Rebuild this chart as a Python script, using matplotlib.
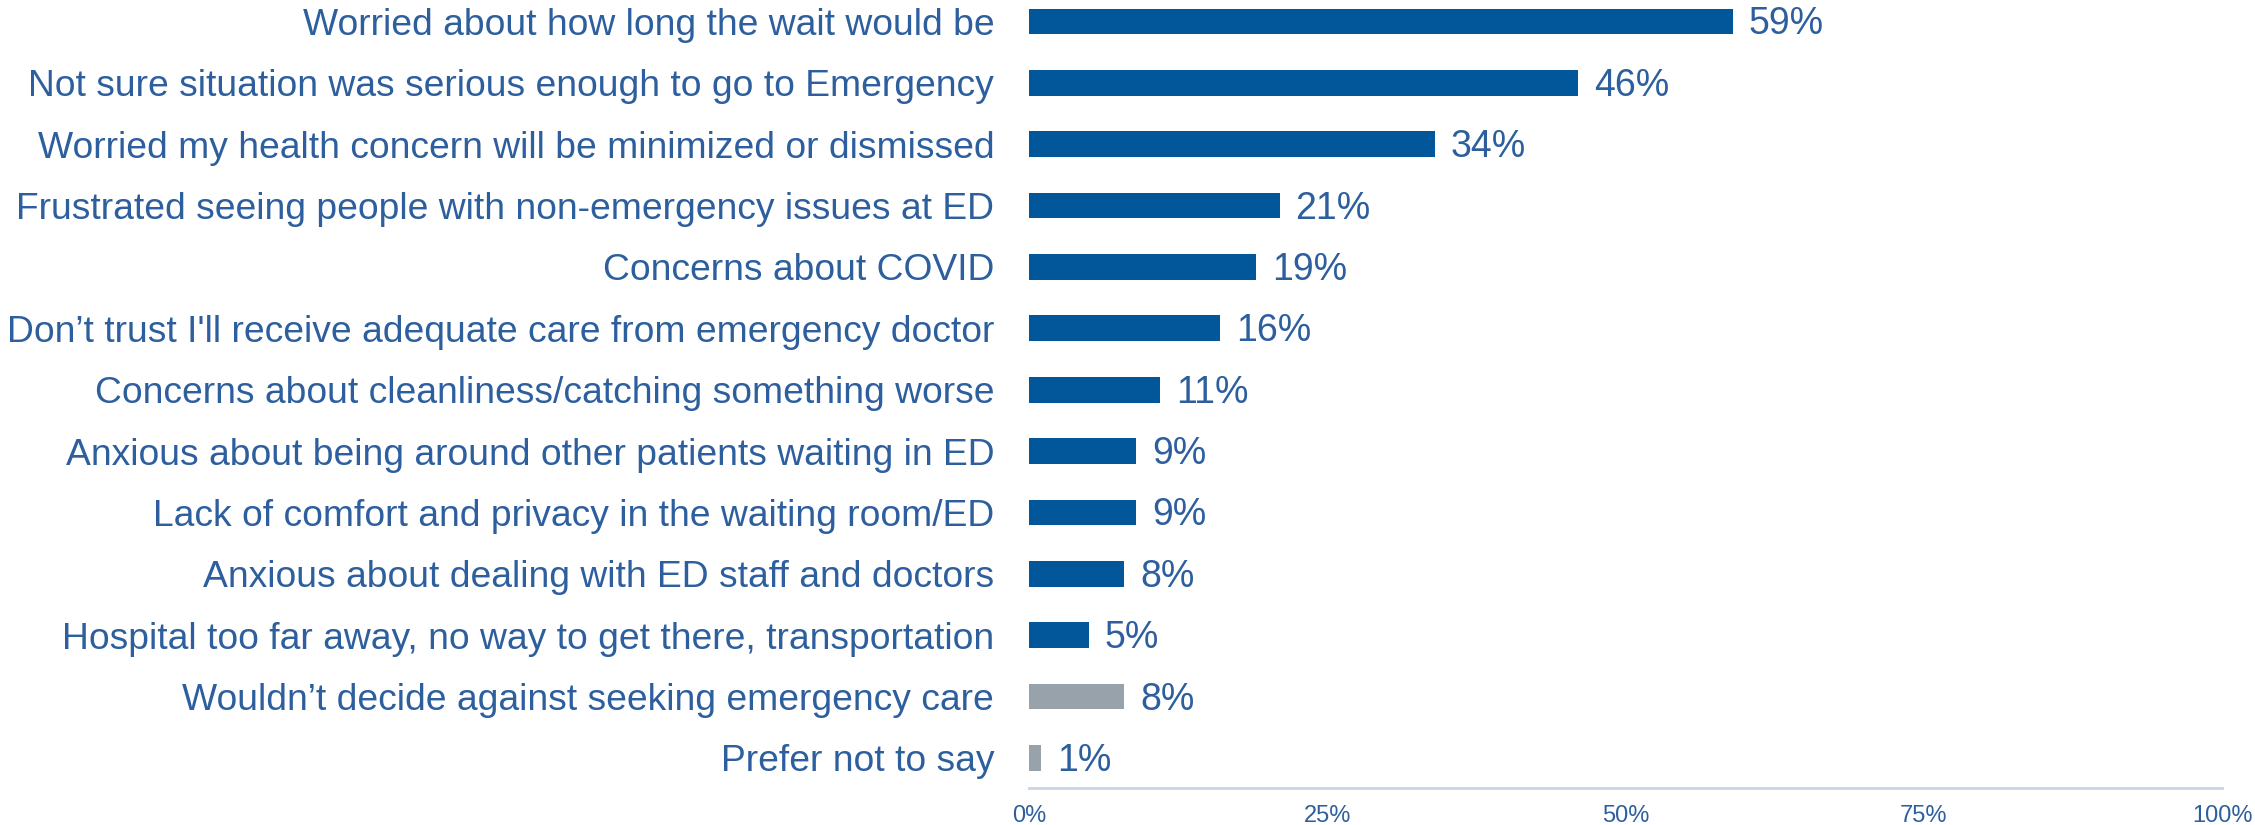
import matplotlib.pyplot as plt
import numpy as np

plt.rcParams['font.family'] = ['Liberation Sans', 'DejaVu Sans']

# Reasons for deciding against emergency care (% of respondents)
reasons = [
    "Worried about how long the wait would be",
    "Not sure situation was serious enough to go to Emergency",
    "Worried my health concern will be minimized or dismissed",
    "Frustrated seeing people with non-emergency issues at ED",
    "Concerns about COVID",
    "Don\u2019t trust I'll receive adequate care from emergency doctor",
    "Concerns about cleanliness/catching something worse",
    "Anxious about being around other patients waiting in ED",
    "Lack of comfort and privacy in the waiting room/ED",
    "Anxious about dealing with ED staff and doctors",
    "Hospital too far away, no way to get there, transportation",
    "Wouldn\u2019t decide against seeking emergency care",
    "Prefer not to say",
]
pct = [59, 46, 34, 21, 19, 16, 11, 9, 9, 8, 5, 8, 1]
is_other = [False] * 11 + [True, True]

ticks = [0, 25, 50, 75, 100]

blue = '#02569A'
grey = '#98A2AB'
text_blue = '#2D5F9E'

fig = plt.figure(figsize=(22.55, 8.25), dpi=100)
ax = fig.add_axes([0.4563, 0.0448, 0.5291, 0.9552])

y = np.arange(len(reasons))
colors = [grey if o else blue for o in is_other]
ax.barh(y, pct, height=0.42, color=colors)

for yi, v in zip(y, pct):
    ax.annotate(f"{v}%", (v, yi), xytext=(16, -3), textcoords='offset pixels',
                va='center', ha='left', fontsize=27, color=text_blue)

ax.set_xlim(0, 100)
ax.set_ylim(12.49, -0.35)
ax.set_yticks(y)
ax.set_yticklabels(reasons, fontsize=26.8, color=text_blue, va='center_baseline')
ax.set_xticks(ticks)
ax.set_xticklabels([f"{t}%" for t in ticks], fontsize=17, color=text_blue)
ax.tick_params(axis='both', length=0)
ax.tick_params(axis='y', pad=25)
ax.tick_params(axis='x', pad=12)

for s in ['top', 'right', 'left']:
    ax.spines[s].set_visible(False)
ax.spines['bottom'].set_color('#C9D5E4')
ax.spines['bottom'].set_linewidth(2)

fig.savefig('out.png', dpi=100)
